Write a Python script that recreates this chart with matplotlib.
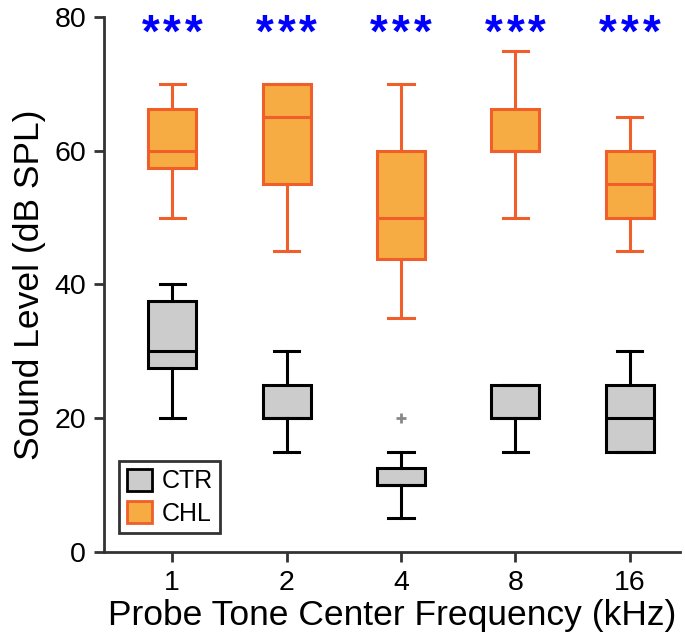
import matplotlib
matplotlib.use("Agg")
import matplotlib.pyplot as plt
from matplotlib.patches import Patch

plt.rcParams["font.family"] = ["Liberation Sans", "DejaVu Sans"]

freqs = ["1", "2", "4", "8", "16"]

# box stats (dB SPL)
ctr_whislo = [20, 15, 5, 15, 15]
ctr_q1 = [27.5, 20, 10, 20, 15]
ctr_med = [30, 20, 10, 20, 20]
ctr_q3 = [37.5, 25, 12.5, 25, 25]
ctr_whishi = [40, 30, 15, 25, 30]
ctr_fliers = [[], [], [20], [], []]

chl_whislo = [50, 45, 35, 50, 45]
chl_q1 = [57.5, 55, 43.75, 60, 50]
chl_med = [60, 65, 50, 60, 55]
chl_q3 = [66.25, 70, 60, 66.25, 60]
chl_whishi = [70, 70, 70, 75, 65]

n_stars = [3, 3, 3, 3, 3]


def make_stats(lo, q1, med, q3, hi, fl=None):
    out = []
    for i in range(len(lo)):
        out.append(dict(whislo=lo[i], q1=q1[i], med=med[i], q3=q3[i],
                        whishi=hi[i], fliers=(fl[i] if fl else [])))
    return out


pos = list(range(1, len(freqs) + 1))

fig = plt.figure(figsize=(6.85, 6.35), dpi=100)
ax = fig.add_axes([0.152, 0.131, 0.841, 0.842])

lw = 2.2
ax.bxp(make_stats(ctr_whislo, ctr_q1, ctr_med, ctr_q3, ctr_whishi, ctr_fliers),
       positions=pos, widths=0.42, capwidths=0.22, patch_artist=True,
       boxprops=dict(facecolor="#cccccc", edgecolor="black", linewidth=lw),
       medianprops=dict(color="black", linewidth=lw),
       whiskerprops=dict(color="black", linewidth=lw),
       capprops=dict(color="black", linewidth=lw),
       flierprops=dict(marker="+", markeredgecolor="#888888", markersize=7,
                       markeredgewidth=2))

orange_edge = "#f05f2a"
ax.bxp(make_stats(chl_whislo, chl_q1, chl_med, chl_q3, chl_whishi),
       positions=pos, widths=0.42, capwidths=0.22, patch_artist=True,
       boxprops=dict(facecolor="#f6ac42", edgecolor=orange_edge, linewidth=lw),
       medianprops=dict(color=orange_edge, linewidth=lw),
       whiskerprops=dict(color=orange_edge, linewidth=lw),
       capprops=dict(color=orange_edge, linewidth=lw))

# significance stars, spread a little wider than normal text
for p, n in zip(pos, n_stars):
    for k in range(n):
        ax.text(p + (k - (n - 1) / 2) * 0.19, 80.6, "*", ha="center",
                va="top", color="#0000ff", fontsize=33, fontweight="bold")

ax.set_xlim(0.406, 5.44)
ax.set_ylim(0, 80)
ax.set_yticks([0, 20, 40, 60, 80])
ax.set_xticks(pos)
ax.set_xticklabels(freqs)
ax.tick_params(labelsize=20.5, width=2, length=7, color="#333333", pad=6)
ax.set_xlabel("Probe Tone Center Frequency (kHz)", fontsize=25.5, labelpad=2)
ax.set_ylabel("Sound Level (dB SPL)", fontsize=25.5, labelpad=6)

ax.spines[["right", "top"]].set_visible(False)
for s in ["left", "bottom"]:
    ax.spines[s].set_linewidth(2)
    ax.spines[s].set_color("#333333")

handles = [Patch(facecolor="#cccccc", edgecolor="black", linewidth=2),
           Patch(facecolor="#f6ac42", edgecolor=orange_edge, linewidth=2)]
leg = ax.legend(handles, ["CTR", "CHL"], loc="lower left",
                bbox_to_anchor=(0.026, 0.035), borderaxespad=0, fontsize=18,
                fancybox=False, edgecolor="#333333", framealpha=1,
                handlelength=1.0, handleheight=1.0, handletextpad=0.4,
                borderpad=0.3, labelspacing=0.3)
leg.get_frame().set_linewidth(2)

fig.savefig("out.png", dpi=100)
